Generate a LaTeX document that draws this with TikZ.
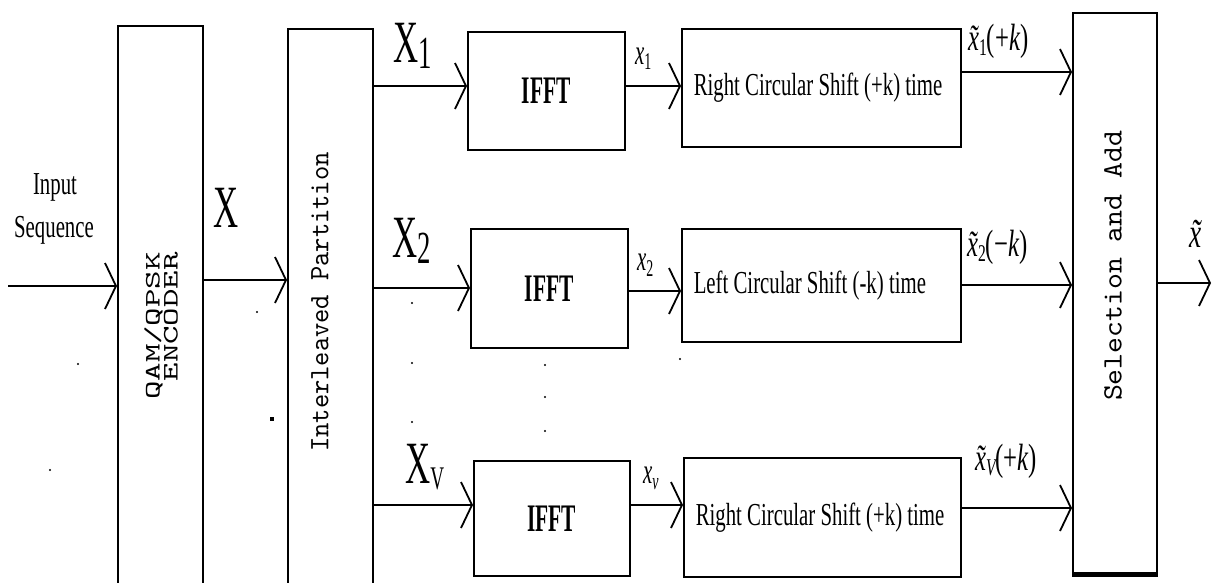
\documentclass[tikz,border=0pt]{standalone}
\usepackage{fontspec}
\setmainfont{Liberation Serif}
\newfontfamily\cserif{Liberation Serif}[FakeStretch=0.65]
\newfontfamily\xserif{Liberation Serif}[FakeStretch=0.58]
\newfontfamily\ifftf{Liberation Serif}[FakeStretch=0.55]
\newfontfamily\monoA{lmmono10-regular.otf}[FakeStretch=1.6]
\newfontfamily\monoB{lmmono10-regular.otf}[FakeStretch=0.97]
\newfontfamily\monoC{lmmono10-regular.otf}[FakeStretch=1.08]
\usetikzlibrary{arrows.meta}
\begin{document}
\begin{tikzpicture}[x=1pt,y=-1pt,
  box/.style={draw,line width=1.5pt,inner sep=0pt,anchor=north west},
  shiftbox/.style={box,inner xsep=12pt,inner ysep=0pt,font=\cserif\fontsize{32}{34}\selectfont},
  arr/.style={line width=1.5pt,-{Straight Barb[length=11pt,width=46pt,line width=1.8pt]}},
  lab/.style={inner sep=0pt,anchor=base west},
  txt/.style={inner sep=0pt,anchor=base,font=\cserif\fontsize{32}{34}\selectfont},
  dotm/.style={fill,circle,inner sep=0pt,minimum size=2.4pt}]
\useasboundingbox (0,0) rectangle (1213,582);
\clip (0,0) rectangle (1213,582);

% boxes
\node[box,minimum width=85pt,minimum height=575pt] (enc) at (117,25) {};
\node[box,minimum width=85pt,minimum height=570pt] (inter) at (287,28) {};
\node[box,minimum width=157pt,minimum height=118pt,font=\ifftf\bfseries\fontsize{39}{40}\selectfont] (f1) at (467,31) {IFFT};
\node[box,minimum width=157pt,minimum height=119pt,font=\ifftf\bfseries\fontsize{39}{40}\selectfont] (f2) at (470,228) {IFFT};
\node[box,minimum width=156pt,minimum height=115pt,font=\ifftf\bfseries\fontsize{39}{40}\selectfont] (f3) at (473,460) {IFFT};
\node[shiftbox,minimum width=279pt,minimum height=118pt] (s1) at (681,28) {\makebox[255pt][l]{Right Circular Shift (+k) time}};
\node[shiftbox,minimum width=279pt,minimum height=113pt] (s2) at (681,228) {\makebox[255pt][l]{Left Circular Shift (-k) time}};
\node[shiftbox,minimum width=277pt,minimum height=119pt] (s3) at (683,457) {\makebox[253pt][l]{Right Circular Shift (+k) time}};
\node[box,minimum width=84pt,minimum height=560pt] (sel) at (1072,12) {};
\draw[line width=4pt] ([yshift=-1pt]sel.south west) -- ([yshift=-1pt]sel.south east);

% rotated texts
\node[rotate=90,inner sep=0pt,align=right,font=\monoA\fontsize{22}{18}\selectfont] (enct) at (161,326) {QAM/QPSK\\ENCODER};
\node[rotate=90,inner sep=0pt,font=\monoB\fontsize{28}{28}\selectfont] (intt) at (320,302) {Interleaved Partition};
\node[rotate=90,inner sep=0pt,font=\monoC\fontsize{28}{28}\selectfont] (selt) at (1113,266) {Selection and Add};

% input text
\node[txt] (in1) at (55,194) {Input};
\node[txt] (in2) at (54,237) {Sequence};

% X labels
\node[lab] (lx) at (213,227) {\xserif\fontsize{60}{60}\selectfont X};
\node[lab] (lx1) at (393,62) {\xserif\fontsize{60}{60}\selectfont X\fontsize{46}{46}\selectfont\raisebox{-6pt}{1}};
\node[lab] (lx2) at (392,257) {\xserif\fontsize{60}{60}\selectfont X\fontsize{46}{46}\selectfont\raisebox{-6pt}{2}};
\node[lab] (lxv) at (405,483) {\xserif\fontsize{60}{60}\selectfont X\fontsize{33}{33}\selectfont\raisebox{-6pt}{V}};

% small x labels
\node[lab] (lxs1) at (635,64) {\xserif\fontsize{36}{36}\selectfont\itshape x\upshape\fontsize{24}{24}\selectfont\raisebox{-5pt}{1}};
\node[lab] (lxs2) at (637,270) {\xserif\fontsize{36}{36}\selectfont\itshape x\upshape\fontsize{24}{24}\selectfont\raisebox{-6pt}{2}};
\node[lab] (lxsv) at (643,483) {\xserif\fontsize{36}{36}\selectfont\itshape x\fontsize{24}{24}\selectfont\raisebox{-6pt}{v}};

% tilde labels
\node[lab] (lt1) at (968,50) {\cserif\fontsize{38}{38}\selectfont{\itshape\~{x}}{\fontsize{24}{24}\selectfont\raisebox{-5pt}{1}}(+{\itshape k})};
\node[lab] (lt2) at (967,256) {\cserif\fontsize{38}{38}\selectfont{\itshape\~{x}}{\fontsize{24}{24}\selectfont\raisebox{-5pt}{2}}(−{\itshape k})};
\node[lab] (ltv) at (975,470) {\cserif\fontsize{38}{38}\selectfont{\itshape\~{x}}{\fontsize{24}{24}\selectfont\itshape\raisebox{-5pt}{V}}(+{\itshape k})};
\node[inner sep=0pt,font=\cserif\fontsize{42}{42}\selectfont\itshape] (lout) at (1196,234) {\~{x}};

% connectors
\coordinate (inS) at (8,286);
\coordinate (xr) at (0,280);
\coordinate (b1) at (0,86);
\coordinate (b2) at (0,288);
\coordinate (b3) at (0,505);
\coordinate (c2) at (0,291);
\coordinate (d1) at (0,72);
\coordinate (d2) at (0,285);
\coordinate (d3) at (0,508);
\coordinate (outE) at (1211,283);
\draw[arr] (inS) -- (inS -| enc.west);
\draw[arr] (enc.east |- xr) -- (inter.west |- xr);
\draw[arr] (inter.east |- b1) -- (f1.west |- b1);
\draw[arr] (inter.east |- b2) -- (f2.west |- b2);
\draw[arr] (inter.east |- b3) -- (f3.west |- b3);
\draw[arr] (f1.east |- b1) -- (s1.west |- b1);
\draw[arr] (f2.east |- c2) -- (s2.west |- c2);
\draw[arr] (f3.east |- b3) -- (s3.west |- b3);
\draw[arr] (s1.east |- d1) -- (sel.west |- d1);
\draw[arr] (s2.east |- d2) -- (sel.west |- d2);
\draw[arr] (s3.east |- d3) -- (sel.west |- d3);
\draw[arr] (sel.east |- outE) -- (outE);

% dots
\foreach \p in {(412,303),(412,363),(412,422),(545,365),(545,397),(545,431),(680,359),(78,364),(50,470),(257,312)}
  \node[dotm] at \p {};
\node[fill,inner sep=0pt,minimum size=4pt] at (272,419) {};
\end{tikzpicture}
\end{document}
